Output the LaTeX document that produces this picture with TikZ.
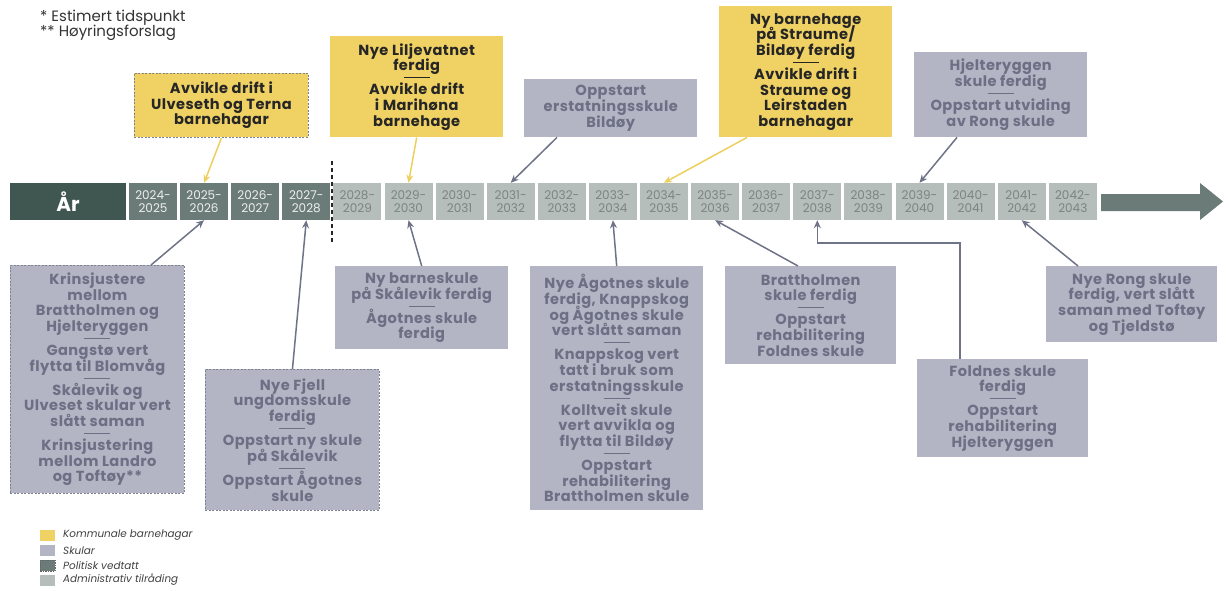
\documentclass[tikz,border=0pt]{standalone}
\usepackage{fontspec}
\setmainfont{Poppins}
\usetikzlibrary{arrows.meta,calc}
\definecolor{yel}{HTML}{F0D264}
\definecolor{yelarr}{HTML}{EDCF5E}
\definecolor{gfill}{HTML}{B3B4C4}
\definecolor{gtxt}{HTML}{6D7084}
\definecolor{garr}{HTML}{6E7388}
\definecolor{dashcol}{HTML}{7E8190}
\definecolor{ardark}{HTML}{3F5651}
\definecolor{yrdark}{HTML}{6B7B77}
\definecolor{yrlight}{HTML}{B5BEBA}
\definecolor{yrltxt}{HTML}{7A8480}
\definecolor{ytxt}{HTML}{262626}
\newcommand\ksep{\\[-8pt]\rule{26pt}{1pt}\\[1pt]}
\newcommand\tightlines{\lineskiplimit=-50pt\relax\lineskip=0pt\relax}
\begin{document}
\begin{tikzpicture}[x=1pt,y=-1pt,
  box/.style={anchor=north west, inner sep=0pt, align=center,
    font=\bfseries\fontsize{14.6}{15.6}\selectfont\addfontfeature{LetterSpace=3}\tightlines},
  ybox/.style={box, fill=yel, text=ytxt},
  gbox/.style={box, fill=gfill, text=gtxt},
  pv/.style={draw=dashcol, line width=0.9pt, dash pattern=on 2pt off 1.5pt},
  yrbase/.style={minimum width=48pt, minimum height=37pt, inner sep=0pt, align=center,
    font=\fontsize{12}{12.5}\selectfont},
  yrd/.style={yrbase, fill=yrdark, text=white!88!yrdark},
  yrl/.style={yrbase, fill=yrlight, text=yrltxt},
  conn/.style={line width=1.5pt, -{Stealth[length=8pt,width=7pt]}},
  legsq/.style={minimum width=15pt, minimum height=11pt, inner sep=0pt},
  legtxt/.style={anchor=west, inner sep=0pt, text=black!75, font=\itshape\fontsize{10.4}{11}\selectfont}
]
\useasboundingbox (0,0) rectangle (1229,590);

% notes
\node[anchor=west, inner sep=0pt, text=black!80, font=\fontsize{15}{16}\selectfont] (n1) at (40,18) {* Estimert tidspunkt};
\node[anchor=west, inner sep=0pt, text=black!80, font=\fontsize{15}{16}\selectfont] (n2) at (40,33) {** Høyringsforslag};

% timeline
\node[minimum width=116pt, minimum height=37pt, inner sep=0pt, fill=ardark, text=white,
  font=\bfseries\fontsize{20}{22}\selectfont] (ar) at (68,201.5) {År};
\foreach \i in {0,...,18}{
  \pgfmathtruncatemacro\ya{2024+\i}
  \pgfmathtruncatemacro\yb{2025+\i}
  \ifnum\i<4
    \node[yrd] (y\ya) at (153+51.1*\i,201.5) {\ya-\\\yb};
  \else
    \node[yrl] (y\ya) at (153+51.1*\i,201.5) {\ya-\\\yb};
  \fi
}
\fill[yrdark] (1101,194) -- (1200,194) -- (1200,183) -- (1223,201.5) -- (1200,220) -- (1200,211) -- (1101,211) -- cycle;
\draw[black!85, line width=2pt, dash pattern=on 4pt off 3pt] (332,161) -- (332,242);

% upper boxes
\node[ybox, pv, minimum width=174pt, minimum height=64pt] (b1) at (134,73)
  {Avvikle drift i\\Ulveseth og Terna\\barnehagar};
\node[ybox, minimum width=173pt, minimum height=101pt] (b2) at (330,36)
  {Nye Liljevatnet\\ferdig\ksep Avvikle drift\\i Marihøna\\barnehage};
\node[gbox, minimum width=173pt, minimum height=58pt] (b3) at (524,79)
  {Oppstart\\erstatningsskule\\Bildøy};
\node[ybox, minimum width=173pt, minimum height=131pt] (b4) at (719,6)
  {Ny barnehage\\på Straume/\\Bildøy ferdig\ksep Avvikle drift i\\Straume og\\Leirstaden\\barnehagar};
\node[gbox, minimum width=173pt, minimum height=85pt] (b5) at (914,52)
  {Hjelteryggen\\skule ferdig\ksep Oppstart utviding\\av Rong skule};

% lower boxes
\node[gbox, pv, minimum width=174pt, minimum height=228pt] (b6) at (10,265)
  {Krinsjustere\\mellom\\Brattholmen og\\Hjelteryggen\ksep Gangstø vert\\flytta til Blomvåg\ksep Skålevik og\\Ulveset skular vert\\slått saman\ksep Krinsjustering\\mellom Landro\\og Toftøy**};
\node[gbox, pv, minimum width=174pt, minimum height=141pt] (b7) at (205,369)
  {Nye Fjell\\ungdomsskule\\ferdig\ksep Oppstart ny skule\\på Skålevik\ksep Oppstart Ågotnes\\skule};
\node[gbox, minimum width=173pt, minimum height=83pt] (b8) at (335,266)
  {Ny barneskule\\på Skålevik ferdig\ksep Ågotnes skule\\ferdig};
\node[gbox, minimum width=173pt, minimum height=244pt] (b9) at (530,266)
  {Nye Ågotnes skule\\ferdig, Knappskog\\og Ågotnes skule\\vert slått saman\ksep Knappskog vert\\tatt i bruk som\\erstatningsskule\ksep Kolltveit skule\\vert avvikla og\\flytta til Bildøy\ksep Oppstart\\rehabilitering\\Brattholmen skule};
\node[gbox, minimum width=171pt, minimum height=98pt] (b10) at (725,266)
  {Brattholmen\\skule ferdig\ksep Oppstart\\rehabilitering\\Foldnes skule};
\node[gbox, minimum width=171pt, minimum height=98pt] (b11) at (917,359)
  {Foldnes skule\\ferdig\ksep Oppstart\\rehabilitering\\Hjelteryggen};
\node[gbox, minimum width=171pt, minimum height=76pt] (b12) at (1046,266)
  {Nye Rong skule\\ferdig, vert slått\\saman med Toftøy\\og Tjeldstø};

% connectors
\draw[conn, yelarr] (b1.south) -- (y2025.north);
\draw[conn, yelarr] (b2.south) -- (y2029.north);
\draw[conn, garr] ($(b3.south west)+(33,0)$) -- (y2031.north);
\draw[conn, yelarr] ($(b4.south west)+(28,0)$) -- (y2034.north);
\draw[conn, garr] ($(b5.south west)+(43,0)$) -- (y2039.north);
\draw[conn, garr] ($(b6.north west)+(141,0)$) -- (y2025.south);
\draw[conn, garr] (b7.north) -- (y2027.south);
\draw[conn, garr] (b8.north) -- (y2029.south);
\draw[conn, garr] (b9.north) -- (y2033.south);
\draw[conn, garr] ($(b10.north west)+(73,0)$) -- (y2035.south);
\draw[conn, garr] ($(b11.north west)+(43,0)$) -- ++(0,-116) -| (y2037.south);
\draw[conn, garr] ($(b12.north west)+(32,0)$) -- (y2041.south);

% legend
\node[legsq, fill=yel] (l1) at (47.5,535.5) {};
\node[legsq, fill=gfill] (l2) at (47.5,550.5) {};
\node[legsq, fill=yrdark, draw=black!60, dash pattern=on 1.5pt off 1pt, line width=0.6pt] (l3) at (47.5,565.5) {};
\node[legsq, fill=yrlight] (l4) at (47.5,580) {};
\node[legtxt] (t1) at (63,535.5) {Kommunale barnehagar};
\node[legtxt] (t2) at (63,550.5) {Skular};
\node[legtxt] (t3) at (63,565.5) {Politisk vedtatt};
\node[legtxt] (t4) at (63,580) {Administrativ tilråding};
\end{tikzpicture}
\end{document}
